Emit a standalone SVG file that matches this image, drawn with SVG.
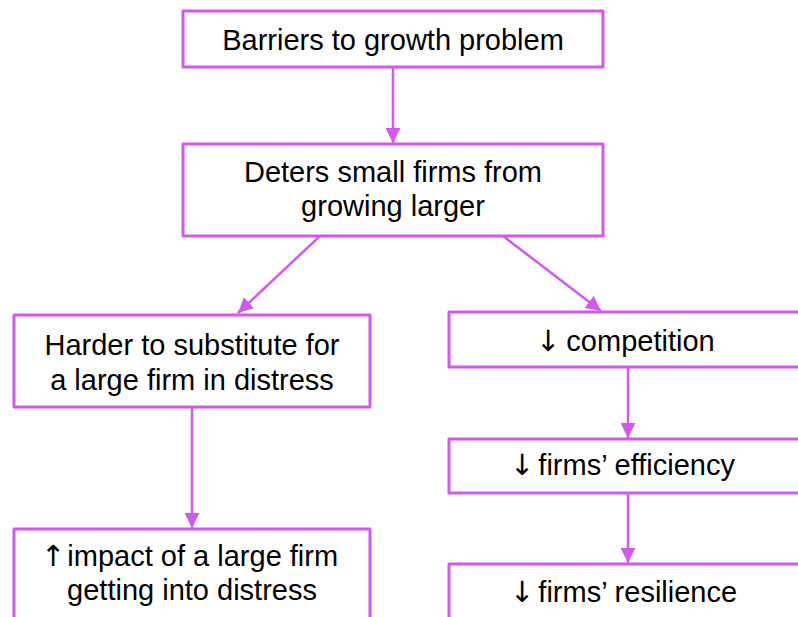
<svg xmlns="http://www.w3.org/2000/svg" width="798" height="617" viewBox="0 0 798 617">
  <style>
    .box { fill: #ffffff; stroke: #D259F0; stroke-width: 3; stroke-linejoin: round; }
    .lbl { font-family: "Liberation Sans", Arial, sans-serif; font-size: 29px; fill: #000000; text-anchor: middle; }
    .lbl-l { font-family: "Liberation Sans", Arial, sans-serif; font-size: 29px; fill: #000000; }
    .arw { font-family: "DejaVu Sans", sans-serif; }
    .edge { stroke: #D259F0; stroke-width: 2.5; fill: none; marker-end: url(#head); }
  </style>
  <defs>
    <marker id="head" viewBox="0 0 10 10" refX="10" refY="5" markerWidth="6" markerHeight="6" markerUnits="strokeWidth" orient="auto">
      <path d="M0,0 L10,5 L0,10 Z" fill="#D259F0"/>
    </marker>
  </defs>
  <rect width="798" height="617" fill="#ffffff"/>

  <g id="connectors">
    <line class="edge" x1="393" y1="67" x2="393" y2="143"/>
    <line class="edge" x1="320" y1="236" x2="238" y2="313"/>
    <line class="edge" x1="503" y1="236" x2="601" y2="311"/>
    <line class="edge" x1="192" y1="407" x2="192" y2="528"/>
    <line class="edge" x1="628" y1="367" x2="628" y2="438"/>
    <line class="edge" x1="628" y1="493" x2="628" y2="563"/>
  </g>

  <g id="barriers">
    <rect class="box" x="183" y="11" width="420" height="56"/>
    <text class="lbl" x="393" y="50">Barriers to growth problem</text>
  </g>

  <g id="deters">
    <rect class="box" x="183" y="144" width="420" height="92"/>
    <text class="lbl" x="393" y="182">Deters small firms from</text>
    <text class="lbl" x="393" y="216">growing larger</text>
  </g>

  <g id="harder">
    <rect class="box" x="14" y="315" width="356" height="92"/>
    <text class="lbl" x="192" y="355">Harder to substitute for</text>
    <text class="lbl" x="192" y="390">a large firm in distress</text>
  </g>

  <g id="impact">
    <rect class="box" x="14" y="529" width="356" height="110"/>
    <text class="lbl-l" x="41" y="566"><tspan class="arw" letter-spacing="-6">↑</tspan> impact of a large firm</text>
    <text class="lbl" x="192" y="600">getting into distress</text>
  </g>

  <g id="competition">
    <rect class="box" x="449" y="312" width="360" height="55"/>
    <text class="lbl-l" x="536" y="351"><tspan class="arw" letter-spacing="-2">↓</tspan> competition</text>
  </g>

  <g id="efficiency">
    <rect class="box" x="449" y="439" width="360" height="54"/>
    <text class="lbl-l" x="510" y="475"><tspan class="arw" letter-spacing="-4">↓</tspan> firms’ efficiency</text>
  </g>

  <g id="resilience">
    <rect class="box" x="449" y="564" width="360" height="80"/>
    <text class="lbl-l" x="510" y="602"><tspan class="arw" letter-spacing="-4">↓</tspan> firms’ resilience</text>
  </g>
</svg>
